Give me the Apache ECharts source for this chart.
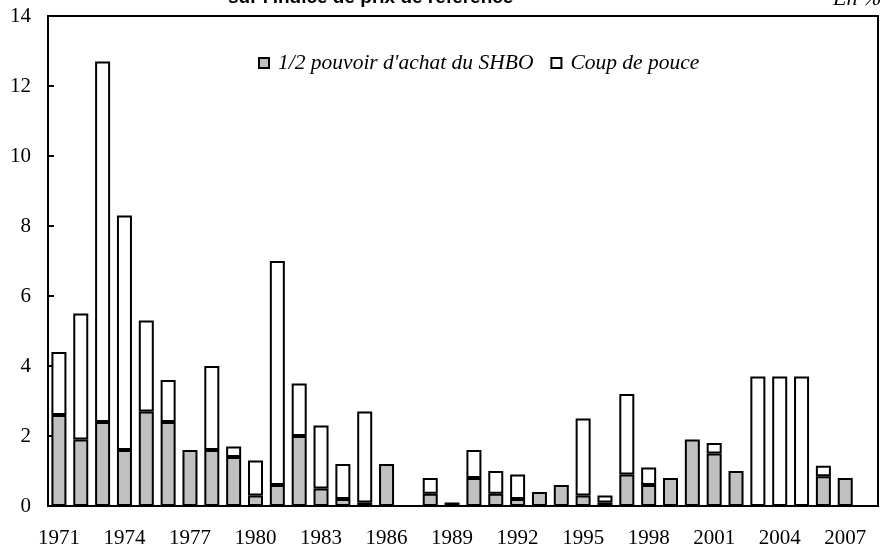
<!DOCTYPE html>
<html>
<head>
<meta charset="utf-8">
<title>Pouvoir d'achat SHBO et coup de pouce</title>
<script src="https://cdn.jsdelivr.net/npm/echarts@6/dist/echarts.min.js"></script>
<style>
  html, body { margin: 0; padding: 0; background: #fff; }
  #chart { width: 886px; height: 554px; }
</style>
</head>
<body>
<div id="chart"></div>
<script>
// années 1971 -> 2008 (2008 : pas encore de valeur)
const years = [];
for (let y = 1971; y <= 2008; y++) years.push(String(y));

// 1/2 pouvoir d'achat du SHBO (en %)
const demiSHBO = [2.6, 1.9, 2.4, 1.6, 2.7, 2.4, 1.6, 1.6, 1.4, 0.3,
  0.6, 2.0, 0.5, 0.2, 0.1, 1.2, 0, 0.35, 0.1, 0.8,
  0.35, 0.2, 0.4, 0.6, 0.3, 0.1, 0.9, 0.6, 0.8, 1.9,
  1.5, 1.0, 0, 0, 0, 0.85, 0.8, 0];

// coup de pouce (en %), empilé au-dessus
const coupDePouce = [1.8, 3.6, 10.3, 6.7, 2.6, 1.2, 0, 2.4, 0.3, 1.0,
  6.4, 1.5, 1.8, 1.0, 2.6, 0, 0, 0.45, 0, 0.8,
  0.65, 0.7, 0, 0, 2.2, 0.2, 2.3, 0.5, 0, 0,
  0.3, 0, 3.7, 3.7, 3.7, 0.3, 0, 0];

const serif = "'Liberation Serif', 'Times New Roman', serif";

const chart = echarts.init(document.getElementById('chart'), null, { renderer: 'canvas' });

// une valeur nulle ne doit pas dessiner de barre
const clean = arr => arr.map(v => (v === 0 ? '-' : v));

const option = {
  animation: false,
  backgroundColor: '#fff',
  graphic: [
    {
      type: 'text',
      left: 228,
      top: -12,
      style: {
        text: "sur l'indice de prix de référence",
        font: "bold 19px 'Liberation Sans', Arial, sans-serif",
        fill: '#000'
      }
    },
    {
      type: 'text',
      left: 833,
      top: -12,
      style: {
        text: 'En %',
        font: "italic 22px 'Liberation Serif', serif",
        fill: '#000'
      }
    }
  ],
  legend: {
    top: 47,
    left: 253,
    itemGap: 17,
    itemWidth: 10,
    itemHeight: 10,
    icon: 'rect',
    itemStyle: { borderColor: '#000', borderWidth: 2 },
    textStyle: {
      fontFamily: serif,
      fontStyle: 'italic',
      fontSize: 21.5,
      color: '#000',
      padding: [0, 0, 0, 4]
    },
    data: ["1/2 pouvoir d'achat du SHBO", 'Coup de pouce']
  },
  grid: {
    left: 48,
    right: 8,
    top: 16,
    bottom: 48,
    show: true,
    borderColor: '#000',
    borderWidth: 2
  },
  xAxis: {
    type: 'category',
    data: years,
    boundaryGap: true,
    axisLine: { lineStyle: { color: '#000', width: 2 } },
    axisTick: { show: false },
    axisLabel: {
      interval: 2,
      margin: 22,
      fontFamily: serif,
      fontSize: 21,
      color: '#000'
    }
  },
  yAxis: {
    type: 'value',
    min: 0,
    max: 14,
    interval: 2,
    splitLine: { show: false },
    axisLine: { show: true, lineStyle: { color: '#000', width: 2 } },
    axisTick: { show: true, inside: true, length: 6, lineStyle: { color: '#000', width: 2 } },
    axisLabel: {
      margin: 17,
      fontFamily: serif,
      fontSize: 21,
      color: '#000'
    }
  },
  series: [
    {
      name: "1/2 pouvoir d'achat du SHBO",
      type: 'bar',
      stack: 'total',
      barWidth: 15,
      data: clean(demiSHBO),
      itemStyle: { color: '#c0c0c0', borderColor: '#000', borderWidth: 2 }
    },
    {
      name: 'Coup de pouce',
      type: 'bar',
      stack: 'total',
      barWidth: 15,
      data: clean(coupDePouce),
      itemStyle: { color: '#fff', borderColor: '#000', borderWidth: 2 }
    }
  ]
};

chart.setOption(option);
</script>
</body>
</html>
